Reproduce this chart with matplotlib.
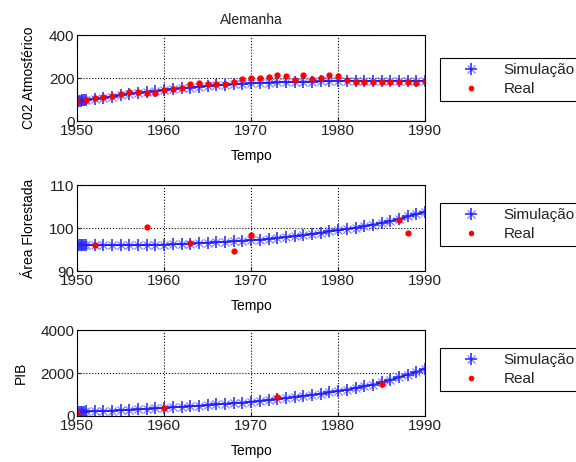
import matplotlib
matplotlib.use("Agg")
import matplotlib.pyplot as plt
from matplotlib.lines import Line2D

plt.rcParams['font.family'] = ['Liberation Sans', 'DejaVu Sans']
plt.rcParams['font.size'] = 10
plt.rcParams['text.color'] = '#222222'
plt.rcParams['xtick.color'] = '#222222'
plt.rcParams['ytick.color'] = '#222222'

# simulation output (first year uses a finer step)
t_sim = [1950, 1950.2, 1950.4, 1950.6, 1950.8,
         1951, 1952, 1953, 1954, 1955, 1956, 1957, 1958, 1959, 1960,
         1961, 1962, 1963, 1964, 1965, 1966, 1967, 1968, 1969, 1970,
         1971, 1972, 1973, 1974, 1975, 1976, 1977, 1978, 1979, 1980,
         1981, 1982, 1983, 1984, 1985, 1986, 1987, 1988, 1989, 1990]
co2_sim = [93, 94, 95, 96, 97,
           98, 103, 108, 114, 120, 126, 131, 136, 140, 145,
           149, 153, 156, 160, 163, 166, 169, 171, 173, 175,
           177, 179, 180, 181, 182, 183, 184, 185, 186, 186,
           187, 187, 187, 187, 187, 187, 187, 187, 187, 187]
area_sim = [96.0, 96.0, 96.0, 96.0, 96.0,
            96.0, 96.0, 96.0, 96.0, 96.0, 96.0, 96.0, 96.0, 96.1, 96.1,
            96.2, 96.3, 96.4, 96.5, 96.6, 96.7, 96.8, 96.9, 97.0, 97.2,
            97.3, 97.5, 97.7, 97.9, 98.1, 98.3, 98.6, 98.9, 99.2, 99.5,
            99.8, 100.1, 100.4, 100.8, 101.2, 101.6, 102.1, 102.7, 103.2, 103.7]
pib_sim = [200, 202, 204, 206, 208,
           210, 220, 235, 250, 265, 285, 305, 325, 350, 375,
           400, 425, 450, 475, 505, 535, 565, 595, 625, 660,
           700, 740, 780, 830, 880, 930, 985, 1040, 1100, 1160,
           1230, 1300, 1380, 1460, 1560, 1680, 1800, 1930, 2060, 2200]

# observed data
t_co2 = list(range(1950, 1991))
co2_real = [93, 100, 107, 110, 115, 128, 137, 137, 132, 132, 145,
            150, 154, 172, 178, 173, 173, 173, 184, 194, 200,
            200, 203, 214, 208, 190, 213, 194, 200, 214, 208,
            190, 184, 184, 184, 184, 184, 180, 180, 176, 187]
t_area = [1952, 1958, 1963, 1968, 1970, 1987, 1988]
area_real = [96.0, 100.2, 96.5, 94.6, 98.3, 101.9, 98.9]
t_pib = [1950, 1960, 1973, 1985]
pib_real = [140, 350, 880, 1510]

panels = [
    (co2_sim, t_co2, co2_real, 'C02 Atmosférico', (0, 400), [0, 200, 400], 0.738),
    (area_sim, t_area, area_real, 'Área Florestada', (90, 110), [90, 100, 110], 0.4134),
    (pib_sim, t_pib, pib_real, 'PIB', (0, 4000), [0, 2000, 4000], 0.0996),
]
legend_tops = [58, 203, 348]


def star_marks(ax, x, y):
    # asterisk drawn as a strong '+' with a faint 'x' behind it
    ax.plot(x, y, linestyle='none', color='#8080ff', marker='x',
            markersize=6, markeredgewidth=0.9)
    ax.plot(x, y, linestyle='none', color='#2020ff', marker='+',
            markersize=9, markeredgewidth=1.1)


fig = plt.figure(figsize=(5.76, 4.62), dpi=100)
for (sim, tr, real, ylab, ylim, yt, bottom), ltop in zip(panels, legend_tops):
    ax = fig.add_axes([0.134, bottom, 0.604, 0.186])
    ax.plot(t_sim, sim, '-', color='blue', linewidth=1.2)
    star_marks(ax, t_sim, sim)
    ax.plot(tr, real, '.', color='red', markersize=7)
    ax.set_xlim(1950, 1990)
    ax.set_ylim(*ylim)
    ax.set_xticks([1950, 1960, 1970, 1980, 1990])
    ax.set_yticks(yt)
    ax.grid(True, color='black', linestyle=':', linewidth=0.8)
    ax.tick_params(direction='in', length=3, labelsize=11, pad=2)
    ax.set_xlabel('Tempo', fontsize=10, labelpad=8)
    ax.set_ylabel(ylab, fontsize=10, labelpad=9)
    for s in ax.spines.values():
        s.set_linewidth(0.8)
    sim_handle = (
        Line2D([], [], linestyle='none', color='#8080ff', marker='x',
               markersize=6, markeredgewidth=0.9),
        Line2D([], [], linestyle='none', color='#2020ff', marker='+',
               markersize=9, markeredgewidth=1.1),
    )
    real_handle = Line2D([], [], linestyle='none', color='red', marker='.',
                         markersize=6)
    leg = fig.legend([sim_handle, real_handle], ['Simulação', 'Real'],
                     loc='upper left',
                     bbox_to_anchor=(440 / 576, 1 - ltop / 462),
                     borderaxespad=0, fancybox=False, edgecolor='black',
                     framealpha=1, fontsize=11, handlelength=3.4,
                     borderpad=0.35, labelspacing=0.3, handletextpad=0.4)
    leg.get_frame().set_linewidth(0.8)
    if bottom > 0.7:
        ax.set_title('Alemanha', fontsize=10, pad=8)

fig.savefig('out.png', dpi=100)
